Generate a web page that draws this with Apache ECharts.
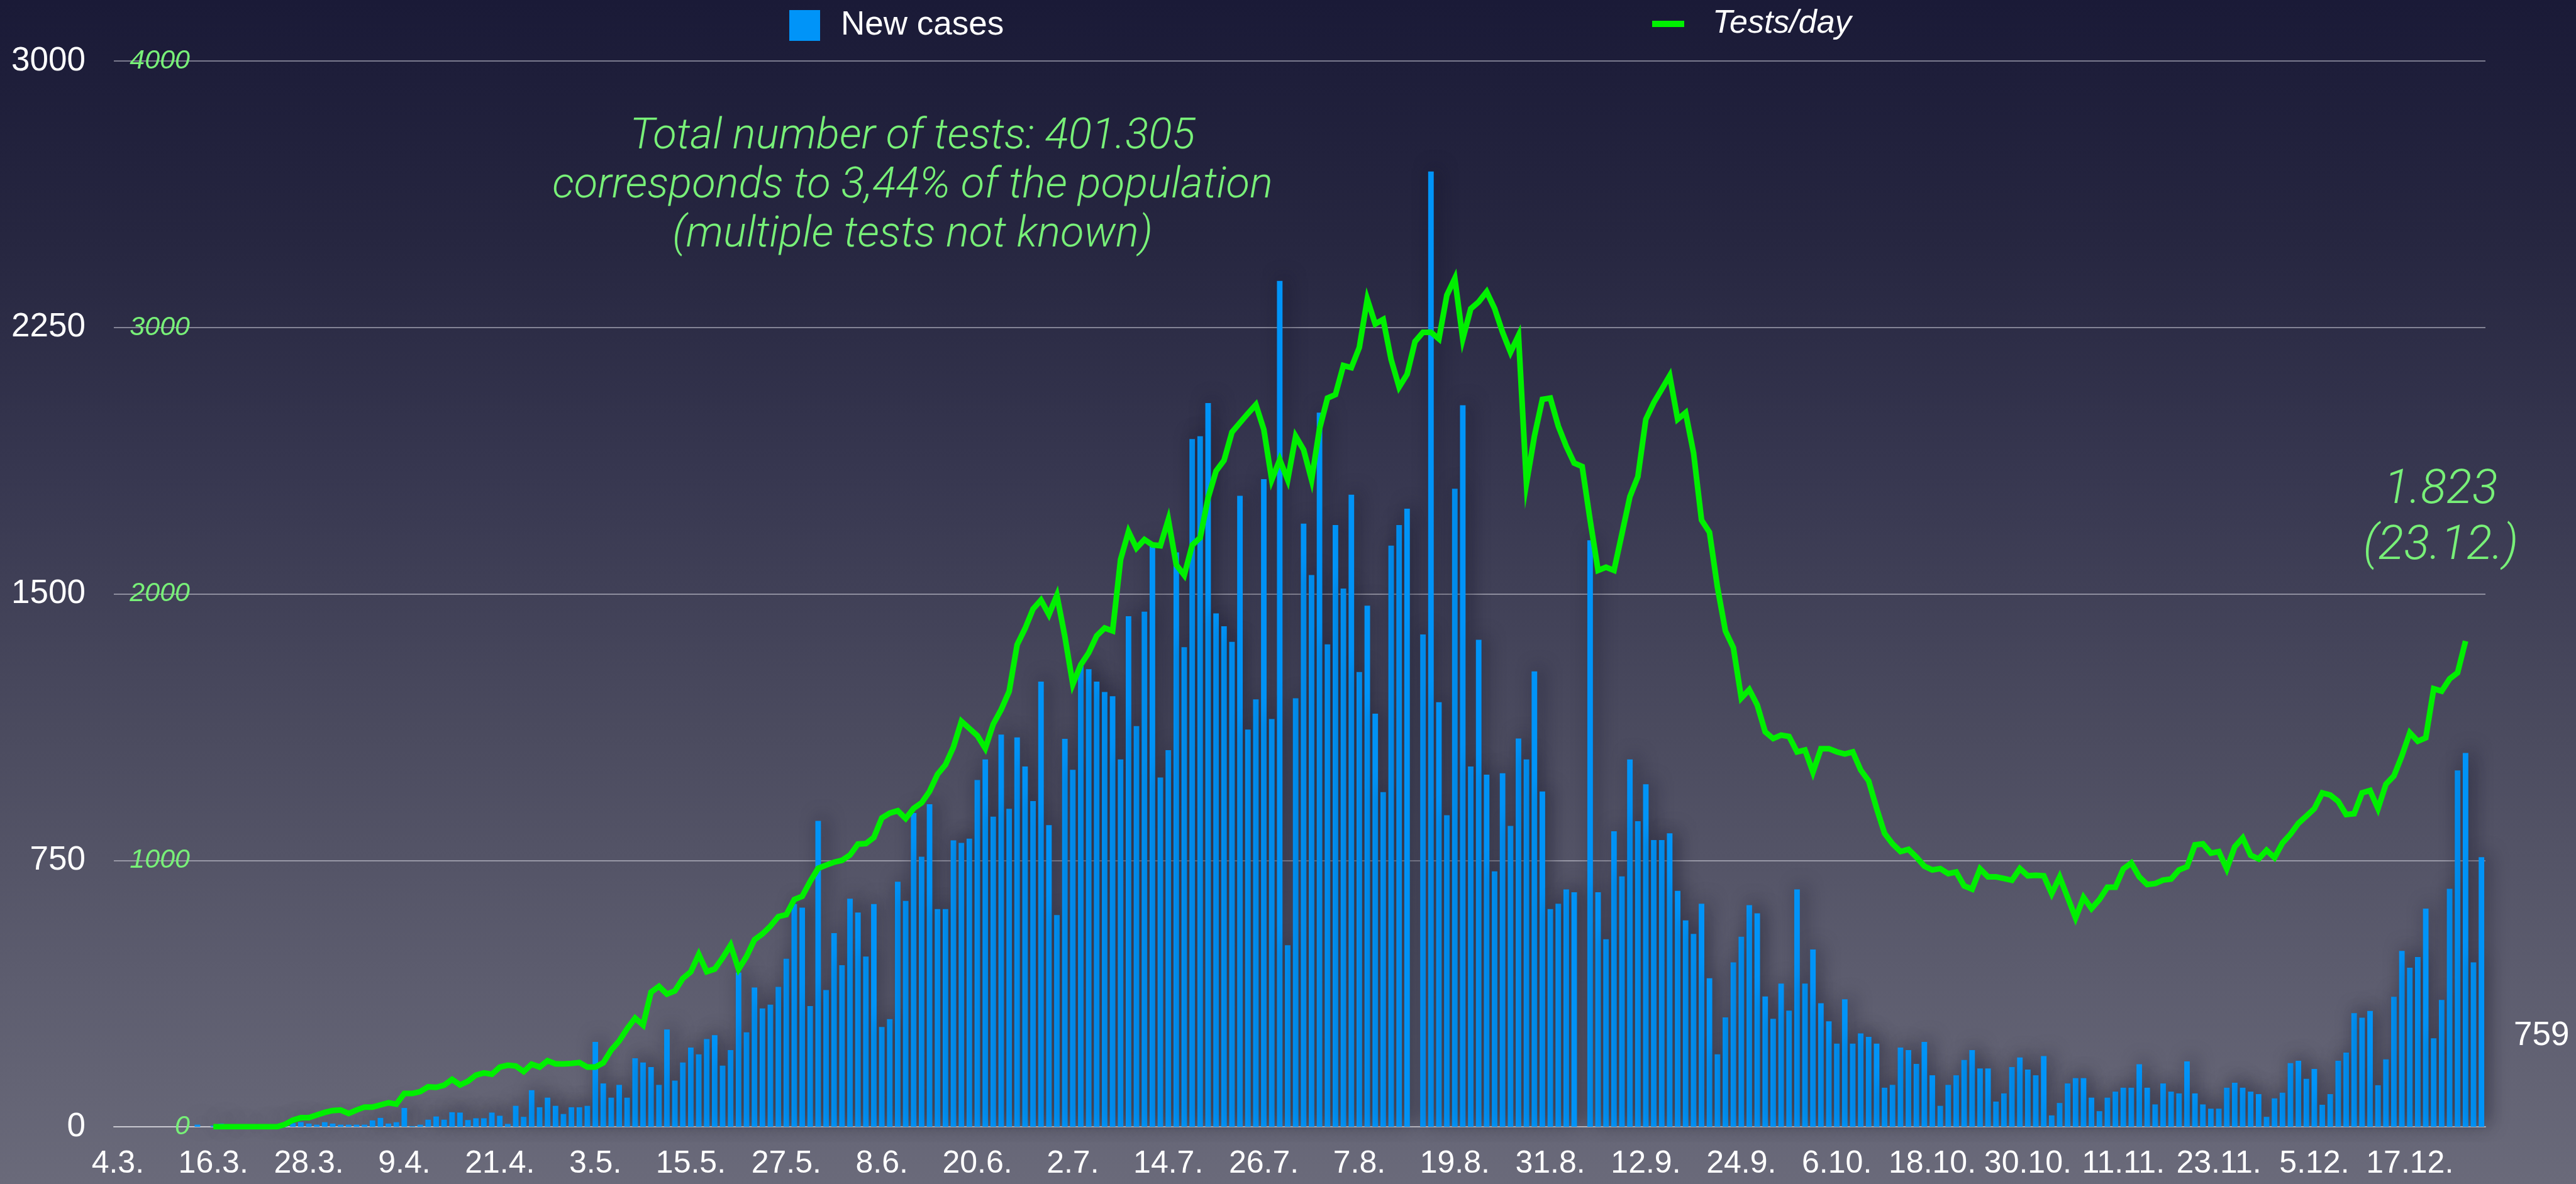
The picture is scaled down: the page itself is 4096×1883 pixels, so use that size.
<!DOCTYPE html>
<html>
<head>
<meta charset="utf-8">
<title>New cases / Tests per day</title>
<script src="https://cdn.jsdelivr.net/npm/echarts@6/dist/echarts.min.js"></script>
<style>
  html, body { margin: 0; padding: 0; }
  #chart { width: 4096px; height: 1883px; }
</style>
</head>
<body>
<div id="chart"></div>
<script>
// ---------------- DATA ----------------
// first day of the chart, one category per day
var startDay = [2020, 2, 4];

// new cases per day (4.3. ... 26.12.)
var newCases = [
  0, 0, 0, 0, 0, 0, 0, 0, 0, 0,
  6, 0, 3, 9, 2, 3, 2, 1, 3, 4,
  3, 5, 10, 13, 9, 6, 13, 9, 6, 6,
  6, 6, 18, 25, 9, 13, 53, 2, 6, 20,
  29, 20, 41, 40, 19, 24, 24, 40, 31, 8,
  59, 28, 103, 55, 82, 59, 36, 55, 55, 59,
  239, 122, 82, 118, 82, 193, 181, 168, 118, 274,
  130, 181, 223, 204, 247, 258, 172, 216, 434, 266,
  392, 333, 344, 394, 473, 627, 617, 340, 861, 385,
  545, 455, 642, 603, 479, 627, 281, 303, 690, 636,
  883, 760, 908, 613, 613, 806, 799, 811, 976, 1034,
  873, 1104, 895, 1096, 1014, 917, 1253, 849, 596, 1092,
  1005, 1300, 1288, 1253, 1224, 1212, 1034, 1437, 1128, 1450,
  1641, 983, 1060, 1617, 1350, 1936, 1944, 2037, 1445, 1409,
  1365, 1776, 1118, 1203, 1823, 1148, 2381, 511, 1206, 1698,
  1553, 2010, 1358, 1694, 1515, 1779, 1280, 1467, 1163, 942,
  1636, 1694, 1740, 0, 1386, 2689, 1195, 877, 1796, 2031,
  1014, 1371, 991, 719, 995, 847, 1093, 1034, 1282, 944,
  613, 628, 668, 660, 0, 1651, 660, 528, 832, 705,
  1034, 860, 964, 807, 807, 826, 664, 581, 543, 628,
  418, 204, 308, 463, 535, 624, 601, 367, 304, 403,
  327, 668, 403, 499, 348, 297, 234, 359, 234, 263,
  253, 234, 110, 118, 223, 216, 177, 239, 145, 59,
  118, 145, 188, 216, 164, 164, 71, 94, 168, 195,
  161, 145, 199, 32, 67, 122, 137, 137, 82, 44,
  82, 99, 110, 110, 176, 110, 63, 122, 99, 94,
  184, 94, 63, 51, 51, 110, 124, 110, 99, 92,
  28, 80, 96, 179, 186, 135, 163, 62, 92, 186,
  209, 320, 307, 326, 117, 190, 366, 495, 448, 478,
  614, 249, 357, 670, 1003, 1052, 463, 759
];

// tests per day (starts 16.3., last value 23.12.)
var testsPerDay = [
  null, null, null, null, null, null, null, null, null, null,
  null, null, 0, 0, 0, 0, 0, 0, 0, 0,
  0, 9, 25, 34, 34, 44, 54, 61, 63, 50,
  63, 74, 74, 82, 90, 85, 125, 125, 132, 150,
  148, 156, 178, 157, 171, 194, 202, 197, 224, 231,
  228, 207, 235, 224, 248, 236, 236, 238, 241, 224,
  224, 240, 288, 322, 368, 408, 382, 505, 527, 498,
  510, 557, 582, 647, 582, 592, 634, 682, 591, 639,
  702, 724, 753, 789, 796, 853, 865, 921, 970, 982,
  993, 1000, 1020, 1061, 1063, 1086, 1159, 1177, 1186, 1157,
  1195, 1216, 1259, 1323, 1359, 1425, 1522, 1495, 1468, 1420,
  1511, 1566, 1634, 1809, 1870, 1943, 1977, 1922, 1995, 1840,
  1661, 1734, 1779, 1843, 1872, 1861, 2129, 2234, 2172, 2204,
  2184, 2181, 2279, 2109, 2070, 2183, 2211, 2360, 2461, 2501,
  2607, 2642, 2677, 2710, 2617, 2428, 2504, 2428, 2592, 2541,
  2428, 2620, 2735, 2748, 2857, 2849, 2925, 3106, 3013, 3030,
  2879, 2776, 2824, 2947, 2982, 2982, 2957, 3121, 3184, 2957,
  3070, 3096, 3134, 3071, 2982, 2907, 2970, 2415, 2592, 2730,
  2735, 2630, 2554, 2491, 2478, 2277, 2088, 2100, 2088, 2226,
  2365, 2440, 2655, 2718, 2768, 2819, 2655, 2680, 2529, 2277,
  2231, 2025, 1861, 1798, 1609, 1641, 1583, 1482, 1457, 1470,
  1465, 1407, 1414, 1331, 1419, 1419, 1407, 1399, 1407, 1339,
  1298, 1195, 1101, 1062, 1033, 1041, 1012, 978, 964, 969,
  950, 956, 904, 892, 968, 938, 938, 932, 925, 969,
  942, 944, 942, 875, 938, 861, 784, 861, 819, 853,
  899, 899, 968, 990, 938, 909, 913, 926, 930, 964,
  976, 1058, 1062, 1027, 1033, 968, 1051, 1084, 1019, 1005,
  1038, 1010, 1065, 1098, 1139, 1166, 1194, 1253, 1245, 1221,
  1172, 1175, 1253, 1262, 1194, 1286, 1317, 1392, 1479, 1447,
  1460, 1644, 1635, 1681, 1704, 1823, null, null
];

// axis ticks
var casesTicks = [0, 750, 1500, 2250, 3000];
var testsTicks = [0, 1000, 2000, 3000, 4000];

// annotations
var noteTotal = ['Total number of tests: 401.305', 'corresponds to 3,44% of the population', '(multiple tests not known)'];
var noteLast = ['1.823', '(23.12.)'];
var lastCasesLabel = '759';

// ---------------- CHART ----------------
var fuente = '"Liberation Sans", Arial, Helvetica, sans-serif';
var fuenteFina = 'Roboto, "Liberation Sans", sans-serif';
var verde = '#78f078';

// daily labels like 4.3.
var dias = [];
for (var i = 0; i < newCases.length; i++) {
  var f = new Date(startDay[0], startDay[1], startDay[2] + i);
  dias.push(f.getDate() + '.' + (f.getMonth() + 1) + '.');
}

// plain numbers on the value axes (3000, not 3,000)
function numeroPlano(v) {
  return String(v);
}

var chart = echarts.init(document.getElementById('chart'));

chart.setOption({
  animation: false,
  backgroundColor: {
    type: 'linear', x: 0, y: 0, x2: 0, y2: 1,
    colorStops: [
      { offset: 0, color: '#1a1a37' },
      { offset: 0.2, color: '#262640' },
      { offset: 0.4, color: '#373750' },
      { offset: 0.62, color: '#4b4b5f' },
      { offset: 0.82, color: '#5c5c6e' },
      { offset: 1, color: '#6a6a7a' }
    ]
  },
  grid: { left: 181, right: 144, top: 97, bottom: 91 },
  legend: [
    {
      data: [{ name: 'New cases', icon: 'rect' }],
      left: 1255, top: 14, padding: 0,
      itemWidth: 49, itemHeight: 49,
      textStyle: { color: '#fff', fontSize: 53, fontFamily: fuente, padding: [0, 0, 0, 28] }
    },
    {
      data: [{ name: 'Tests/day', icon: 'rect' }],
      left: 2627, top: 12, padding: 0,
      itemWidth: 51, itemHeight: 10,
      textStyle: { color: '#fff', fontSize: 52, fontStyle: 'italic', fontFamily: fuente, padding: [0, 0, 0, 40] }
    }
  ],
  xAxis: {
    type: 'category',
    data: dias,
    boundaryGap: true,
    axisTick: { show: false },
    axisLine: { lineStyle: { color: '#c8c8d0', width: 2 } },
    axisLabel: { color: '#fff', fontSize: 50, fontFamily: fuente, interval: 11, margin: 34 }
  },
  yAxis: [
    {
      type: 'value',
      min: casesTicks[0], max: casesTicks[casesTicks.length - 1],
      interval: casesTicks[1] - casesTicks[0],
      axisLine: { show: false }, axisTick: { show: false },
      splitLine: { lineStyle: { color: 'rgba(225,225,235,0.65)', width: 1.5 } },
      axisLabel: { color: '#fff', fontSize: 53, fontFamily: fuente, margin: 45, formatter: numeroPlano }
    },
    {
      type: 'value',
      position: 'left',
      offset: -121,
      min: testsTicks[0], max: testsTicks[testsTicks.length - 1],
      interval: testsTicks[1] - testsTicks[0],
      axisLine: { show: false }, axisTick: { show: false },
      splitLine: { show: false },
      axisLabel: { color: verde, fontSize: 43, fontStyle: 'italic', fontFamily: fuente, margin: 0, formatter: numeroPlano }
    }
  ],
  series: [
    {
      name: 'New cases',
      type: 'bar',
      data: newCases,
      yAxisIndex: 0,
      barCategoryGap: '30%',
      itemStyle: {
        color: '#0094f8',
        shadowBlur: 28,
        shadowColor: 'rgba(15,15,35,0.6)',
        shadowOffsetX: 7,
        shadowOffsetY: -5
      }
    },
    {
      name: 'Tests/day',
      type: 'line',
      data: testsPerDay,
      yAxisIndex: 1,
      symbol: 'none',
      connectNulls: false,
      itemStyle: { color: '#00f000' },
      lineStyle: { color: '#00f000', width: 9, join: 'miter' }
    }
  ],
  graphic: [
    {
      type: 'text', x: 1451, y: 180,
      style: {
        text: noteTotal.join('\n'),
        fill: verde, fontSize: 69, fontStyle: 'italic', fontWeight: 300,
        fontFamily: fuenteFina, lineHeight: 78,
        textAlign: 'center', textVerticalAlign: 'top'
      }
    },
    {
      type: 'text', x: 3881, y: 736,
      style: {
        text: noteLast.join('\n'),
        fill: verde, fontSize: 76, fontStyle: 'italic', fontWeight: 300,
        fontFamily: fuenteFina, lineHeight: 89,
        textAlign: 'center', textVerticalAlign: 'top'
      }
    },
    {
      type: 'text', x: 3997, y: 1647,
      style: {
        text: lastCasesLabel,
        fill: '#fff', fontSize: 53, fontFamily: fuente,
        textAlign: 'left', textVerticalAlign: 'middle'
      }
    }
  ]
});
</script>
</body>
</html>
